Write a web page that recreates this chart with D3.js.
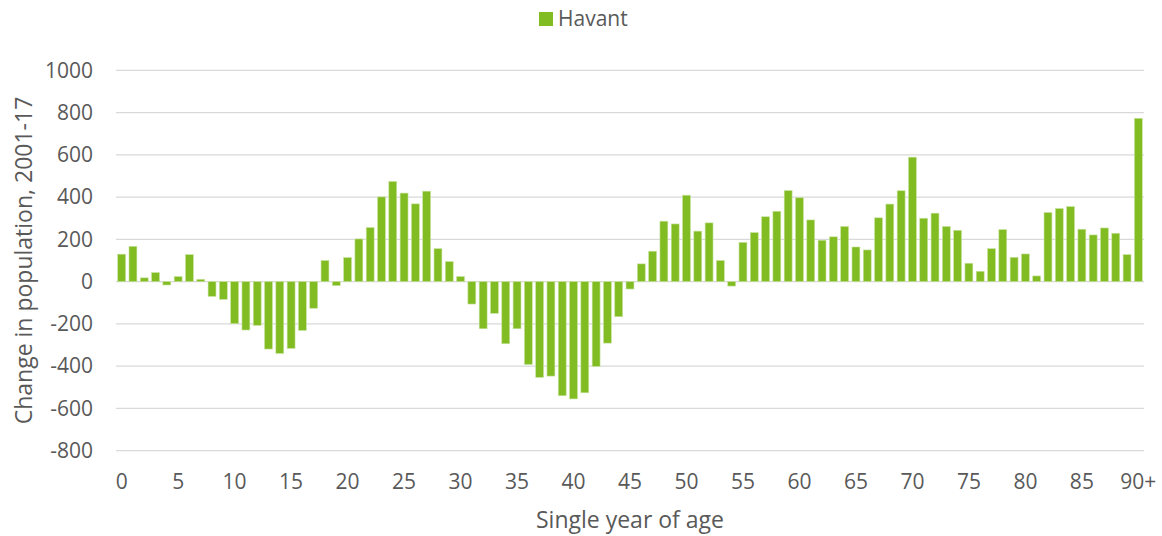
<!DOCTYPE html>
<html>
<head>
<meta charset="utf-8">
<script src="https://cdn.jsdelivr.net/npm/d3@7"></script>
<style>
    body { margin: 0; background: #ffffff; }
    text { font-family: "Open Sans", "Noto Sans", sans-serif; fill: #595959; }
</style>
</head>
<body>
<div id="chart"></div>
<script>
// Single year of age, 0 .. 90+
const ages = d3.range(0, 90).map(String).concat(['90+']);

// Change in population, 2001-17 (Havant)
const havant = [
    130, 167, 18, 43, -16, 24, 128, 11, -70, -84,
    -199, -229, -207, -319, -340, -316, -231, -126, 100, -19,
    114, 202, 256, 401, 474, 419, 368, 428, 156, 95,
    24, -106, -223, -150, -294, -223, -392, -453, -447, -540,
    -555, -526, -401, -291, -166, -35, 84, 144, 286, 273,
    409, 239, 278, 100, -21, 186, 232, 307, 333, 431,
    397, 292, 196, 212, 261, 164, 150, 302, 367, 430,
    589, 300, 324, 261, 243, 87, 49, 156, 246, 115,
    131, 27, 327, 346, 355, 248, 221, 254, 229, 128,
    773
];

const xTickLabels = ['0', '5', '10', '15', '20', '25', '30', '35', '40', '45',
    '50', '55', '60', '65', '70', '75', '80', '85', '90+'];
const yTicks = [-800, -600, -400, -200, 0, 200, 400, 600, 800, 1000];

const seriesName = 'Havant';
const barColor = '#82bc23';
const gridColor = '#d9d9d9';

const width = 1162, height = 536;
const margin = { top: 70.3, right: 18, bottom: 85.3, left: 116 };

const svg = d3.select('#chart').append('svg')
    .attr('width', width)
    .attr('height', height);

const x = d3.scaleBand()
    .domain(ages)
    .range([margin.left, width - margin.right])
    .paddingInner(0.3)
    .paddingOuter(0.15);

const y = d3.scaleLinear()
    .domain([-800, 1000])
    .range([height - margin.bottom, margin.top]);

// Gridlines
svg.append('g')
    .selectAll('line')
    .data(yTicks)
    .join('line')
    .attr('x1', margin.left)
    .attr('x2', width - margin.right)
    .attr('y1', d => y(d))
    .attr('y2', d => y(d))
    .attr('stroke', gridColor)
    .attr('stroke-width', 1.3);

// Y axis labels (plain hyphen minus, no thousands separator)
const yAxis = svg.append('g')
    .attr('transform', `translate(${margin.left},0)`)
    .call(d3.axisLeft(y).tickValues(yTicks).tickFormat(d => String(d)).tickSize(0).tickPadding(23));
yAxis.select('.domain').remove();
yAxis.selectAll('text')
    .attr('font-size', '21px')
    .attr('fill', '#595959')
    .style('font-family', '"Open Sans", sans-serif');

// Bars
svg.append('g')
    .selectAll('rect')
    .data(havant)
    .join('rect')
    .attr('x', (d, i) => x(ages[i]))
    .attr('width', x.bandwidth())
    .attr('y', d => y(Math.max(0, d)))
    .attr('height', d => Math.abs(y(d) - y(0)))
    .attr('fill', barColor)
    .attr('stroke', '#c9e3a0')
    .attr('stroke-width', 0.6);

// X axis labels
const xAxis = svg.append('g')
    .attr('transform', `translate(0,${height - margin.bottom})`)
    .call(d3.axisBottom(x).tickValues(xTickLabels).tickSize(0).tickPadding(23));
xAxis.select('.domain').remove();
xAxis.selectAll('text')
    .attr('font-size', '21px')
    .attr('fill', '#595959')
    .style('font-family', '"Open Sans", sans-serif');

// Axis titles
svg.append('text')
    .attr('x', (margin.left + width - margin.right) / 2)
    .attr('y', 528)
    .attr('text-anchor', 'middle')
    .attr('font-size', '23px')
    .text('Single year of age');

svg.append('text')
    .attr('transform', `translate(32,${(margin.top + height - margin.bottom) / 2}) rotate(-90)`)
    .attr('text-anchor', 'middle')
    .attr('font-size', '23px')
    .text('Change in population, 2001-17');

// Legend
const legend = svg.append('g').attr('transform', 'translate(539,12)');
legend.append('rect')
    .attr('width', 14)
    .attr('height', 14)
    .attr('fill', barColor);
legend.append('text')
    .attr('x', 19)
    .attr('y', 7)
    .attr('dy', '0.35em')
    .attr('font-size', '21px')
    .text(seriesName);
</script>
</body>
</html>
